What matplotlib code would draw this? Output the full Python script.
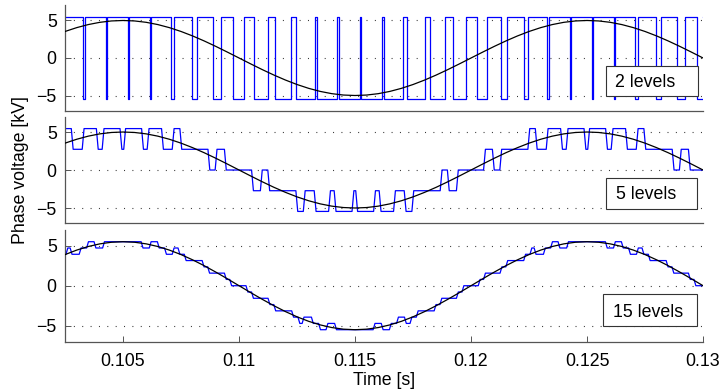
import numpy as np
import matplotlib
matplotlib.use('Agg')
import matplotlib.pyplot as plt
from matplotlib.patches import Rectangle

plt.rcParams['font.family'] = ['Liberation Sans', 'DejaVu Sans']
plt.rcParams['lines.scale_dashes'] = False

# ---------------- data ----------------
t_start, t_end = 0.1025, 0.13
xticks = [0.105, 0.11, 0.115, 0.12, 0.125, 0.13]
xtick_labels = ['0.105', '0.11', '0.115', '0.12', '0.125', '0.13']
yticks = [-5, 0, 5]
ytick_labels = ['\u22125', '0', '5']
panel_labels = ['2 levels', '5 levels', '15 levels']
xlabel = 'Time [s]'
ylabel = 'Phase voltage [kV]'

# reference (black) in per unit, read every 0.5 ms from 0.1025 s to 0.13 s
ref_pu = [0.7071, 0.8090, 0.8910, 0.9511, 0.9877, 1.0, 0.9877, 0.9511, 0.8910, 0.8090,
          0.7071, 0.5878, 0.4540, 0.3090, 0.1564, 0.0, -0.1564, -0.3090, -0.4540, -0.5878,
          -0.7071, -0.8090, -0.8910, -0.9511, -0.9877, -1.0, -0.9877, -0.9511, -0.8910, -0.8090,
          -0.7071, -0.5878, -0.4540, -0.3090, -0.1564, 0.0, 0.1564, 0.3090, 0.4540, 0.5878,
          0.7071, 0.8090, 0.8910, 0.9511, 0.9877, 1.0, 0.9877, 0.9511, 0.8910, 0.8090,
          0.7071, 0.5878, 0.4540, 0.3090, 0.1564, 0.0]
ref_amp = [5.0, 5.0, 5.5]          # kV, per panel

# 2 levels: output is +top_level except during these low intervals
top_level = 5.45
top_low_start = [0.103270, 0.104246, 0.105204, 0.106142, 0.107062, 0.107968, 0.108862,
                 0.109750, 0.110638, 0.111532, 0.112437, 0.113357, 0.114294, 0.115252,
                 0.116228, 0.117221, 0.118227, 0.119242, 0.120260, 0.121275, 0.122281,
                 0.123274, 0.124251, 0.125209, 0.126147, 0.127067, 0.127973, 0.128867,
                 0.129755]
top_low_end = [0.103368, 0.104297, 0.105244, 0.106211, 0.107196, 0.108196, 0.109208,
               0.110224, 0.111242, 0.112253, 0.113253, 0.114239, 0.115206, 0.116154,
               0.117084, 0.117996, 0.118895, 0.119785, 0.120672, 0.121563, 0.122461,
               0.123373, 0.124302, 0.125249, 0.126216, 0.127201, 0.128201, 0.129213,
               0.130230]

# 5 levels: switching instants and level after each switch (kV)
mid_start_level = 5.45
mid_edge_t = [0.10281, 0.10328, 0.10389, 0.10414, 0.10491, 0.10507, 0.10584, 0.10608,
              0.10670, 0.10716, 0.10749, 0.10870, 0.10901, 0.10941, 0.11058, 0.11096,
              0.11128, 0.11249, 0.11281, 0.11328, 0.11390, 0.11414, 0.11491, 0.11507,
              0.11584, 0.11608, 0.11670, 0.11716, 0.11749, 0.11871, 0.11902, 0.11941,
              0.12058, 0.12096, 0.12128, 0.12249, 0.12281, 0.12328, 0.12390, 0.12414,
              0.12491, 0.12507, 0.12584, 0.12608, 0.12670, 0.12716, 0.12749, 0.12871,
              0.12902, 0.12941]
mid_edge_v = [2.725, 5.45, 2.725, 5.45, 2.725, 5.45, 2.725, 5.45, 2.725, 5.45, 2.725,
              0, 2.725, 0, -2.725, 0, -2.725,
              -5.45, -2.725, -5.45, -2.725, -5.45, -2.725, -5.45, -2.725, -5.45, -2.725,
              -5.45, -2.725, 0, -2.725, 0, 2.725, 0, 2.725,
              5.45, 2.725, 5.45, 2.725, 5.45, 2.725, 5.45, 2.725, 5.45, 2.725, 5.45, 2.725,
              0, 2.725, 0]

# 15 levels: switching instants and level index after each switch
bot_step_kv = 5.5 / 7
bot_start_n = 5
bot_edge_t = [0.10258, 0.10276, 0.10315, 0.10347, 0.10379, 0.10416, 0.10582, 0.10617,
              0.10652, 0.10683, 0.10716, 0.10741, 0.10768, 0.10845, 0.10869, 0.10941,
              0.10964, 0.11034, 0.11058, 0.11129, 0.11154, 0.11231, 0.11258, 0.11276,
              0.11316, 0.11347, 0.11379, 0.11416, 0.11582, 0.11617, 0.11652, 0.11683,
              0.11717, 0.11741, 0.11768, 0.11845, 0.11870, 0.11941, 0.11965, 0.12035,
              0.12058, 0.12129, 0.12154, 0.12231, 0.12258, 0.12276, 0.12316, 0.12347,
              0.12379, 0.12416, 0.12583, 0.12618, 0.12652, 0.12683, 0.12717, 0.12741,
              0.12768, 0.12845, 0.12870, 0.12941, 0.12965]
bot_edge_n = [6, 5, 6, 7, 6, 7, 6, 7, 6, 5, 6, 5, 4, 3, 2, 1, 0, -1, -2, -3, -4, -5, -6,
              -5, -6, -7, -6, -7, -6, -7, -6, -5, -6, -5, -4, -3, -2, -1, 0, 1, 2, 3, 4,
              5, 6, 5, 6, 7, 6, 7, 6, 7, 6, 5, 6, 5, 4, 3, 2, 1, 0]

# ---------------- helpers ----------------
RAMP = 0.00008  # visual slope of sampled transitions


def ramp_wave(v0, edges_t, edges_v):
    xs, ys = [t_start], [v0]
    prev = v0
    for t, v in zip(edges_t, edges_v):
        xs += [t - RAMP / 2, t + RAMP / 2]
        ys += [prev, v]
        prev = v
    xs.append(t_end)
    ys.append(prev)
    return xs, ys


def two_level_wave():
    xs, ys = [t_start], [top_level]
    for s, e in zip(top_low_start, top_low_end):
        xs += [s, s, e, e]
        ys += [top_level, -top_level, -top_level, top_level]
    xs.append(t_end)
    ys.append(ys[-1])
    return xs, ys


# ---------------- figure ----------------
fig = plt.figure(figsize=(7.21, 3.92), dpi=100)
positions = [[0.0902, 0.7181, 0.8849, 0.2679],
             [0.0902, 0.4306, 0.8849, 0.2714],
             [0.0902, 0.1283, 0.8849, 0.2857]]
box_x = [(0.125819, 0.129784, 0.126207), (0.125819, 0.129741, 0.126250),
         (0.125690, 0.129741, 0.126107)]
box_y = [(-5.09, -1.01, -3.82), (-5.13, -1.05, -3.86), (-5.04, -1.04, -3.88)]

t_ref = np.linspace(t_start, t_end, len(ref_pu))
waves = [two_level_wave(),
         ramp_wave(mid_start_level, mid_edge_t, mid_edge_v),
         ramp_wave(bot_start_n * bot_step_kv, bot_edge_t,
                   [n * bot_step_kv for n in bot_edge_n])]

spine_col = '#555555'
FS = 12.8
for i, pos in enumerate(positions):
    ax = fig.add_axes(pos)
    xs, ys = waves[i]
    ax.plot(xs, ys, color='#0000ff', lw=0.9, zorder=2)
    ax.plot(t_ref, np.array(ref_pu) * ref_amp[i], color='black', lw=0.9, zorder=3)
    ax.set_xlim(t_start, t_end)
    ax.set_ylim(-7, 7)
    ax.set_yticks(yticks)
    ax.set_yticklabels(ytick_labels, fontsize=FS)
    ax.yaxis.grid(True, linestyle=(0, (0.72, 5.3)), color='#333333', lw=0.8)
    ax.set_axisbelow(True)
    for s in ['top', 'right']:
        ax.spines[s].set_visible(False)
    for s in ['left', 'bottom']:
        ax.spines[s].set_color(spine_col)
        ax.spines[s].set_linewidth(0.9)
    ax.tick_params(axis='y', direction='in', length=4.5, width=0.7, color=spine_col,
                   pad=6, labelsize=FS)
    if i < 2:
        ax.tick_params(axis='x', bottom=False, labelbottom=False)
    else:
        ax.set_xticks(xticks)
        ax.set_xticklabels(xtick_labels, fontsize=FS)
        ax.tick_params(axis='x', direction='in', length=4.5, width=0.7,
                       color=spine_col, pad=8, labelsize=FS)
    x0, x1, tx = box_x[i]
    y0, y1, ty = box_y[i]
    ax.add_patch(Rectangle((x0, y0), x1 - x0, y1 - y0, facecolor='white',
                           edgecolor='#333333', lw=0.8, zorder=5))
    ax.text(tx, ty, panel_labels[i], fontsize=FS, ha='left', va='baseline', zorder=6)

fig.text(0.029, 0.566, ylabel, rotation=90, ha='center', va='center', fontsize=FS)
fig.text(0.532, 0.0186, xlabel, ha='center', va='baseline', fontsize=FS)

fig.savefig('out.png', dpi=100)
